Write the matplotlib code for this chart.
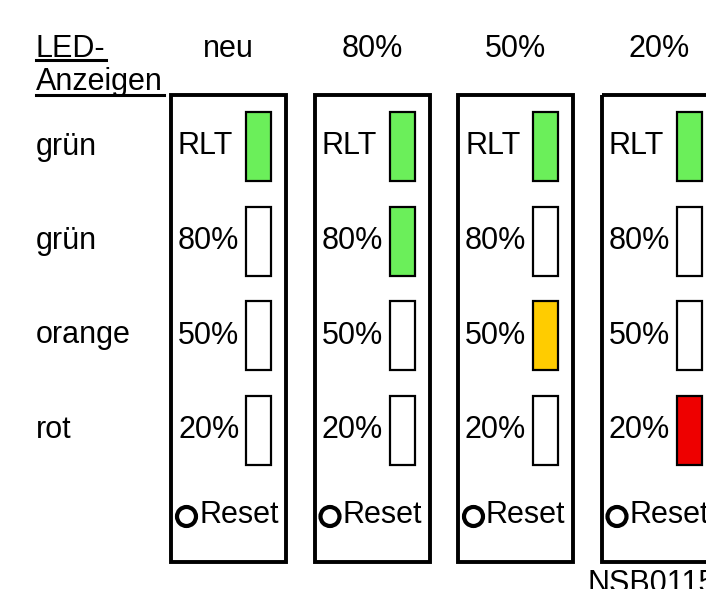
import matplotlib
matplotlib.use("Agg")
import matplotlib.pyplot as plt
from matplotlib.patches import Rectangle, Circle

# Zustände der Akku-/Filteranzeige
states = ["neu", "80%", "50%", "20%"]
led_labels = ["RLT", "80%", "50%", "20%"]
led_names = ["grün", "grün", "orange", "rot"]
# welche LED leuchtet in welchem Zustand (None = aus)
led_on = [
    ["#6bef5a", None, None, None],
    ["#6bef5a", "#6bef5a", None, None],
    ["#6bef5a", None, "#ffcc00", None],
    ["#6bef5a", None, None, "#ee0000"],
]
footer = "NSB01150"

FONT = "Liberation Sans"
FS = 22

fig = plt.figure(figsize=(7.06, 5.89), dpi=100)
ax = fig.add_axes([0, 0, 1, 1])
ax.set_xlim(0, 706)
ax.set_ylim(589, 0)
ax.axis("off")

# Kopfzeile links
ax.text(36, 57, "LED-", fontsize=FS, family=FONT, va="baseline", ha="left")
ax.text(36, 90, "Anzeigen", fontsize=FS, family=FONT, va="baseline", ha="left")
ax.plot([36, 106], [60, 60], color="black", lw=2.2)
ax.plot([36, 164], [95, 95], color="black", lw=2.2)

# Farbnamen links
row_top = 112
row_step = 94.5
led_h = 69
for i, name in enumerate(led_names):
    yc = row_top + i * row_step + led_h / 2
    ax.text(36, yc, name, fontsize=FS, family=FONT, va="center", ha="left")

panel_x0 = 171
panel_step = 143.5
panel_w = 115
for j, state in enumerate(states):
    px = panel_x0 + j * panel_step
    ax.text(px + panel_w / 2, 57, state, fontsize=FS, family=FONT,
            va="baseline", ha="center")
    ax.add_patch(Rectangle((px, 95), panel_w, 467, fill=False,
                           edgecolor="black", lw=2.8))
    for i, lab in enumerate(led_labels):
        ytop = row_top + i * row_step
        col = led_on[j][i]
        ax.add_patch(Rectangle((px + 75, ytop), 25, led_h,
                               facecolor=col if col else "white",
                               edgecolor="black", lw=1.6))
        ax.text(px + 7, ytop + led_h / 2, lab, fontsize=FS, family=FONT,
                va="center", ha="left")
    ax.add_patch(Circle((px + 15.5, 516.5), 9.5, fill=False,
                        edgecolor="black", lw=3))
    ax.text(px + 28, 515, "Reset", fontsize=FS, family=FONT,
            va="center", ha="left")

ax.text(588, 592, footer, fontsize=FS, family=FONT, va="baseline", ha="left")

fig.savefig("out.png", dpi=100)
